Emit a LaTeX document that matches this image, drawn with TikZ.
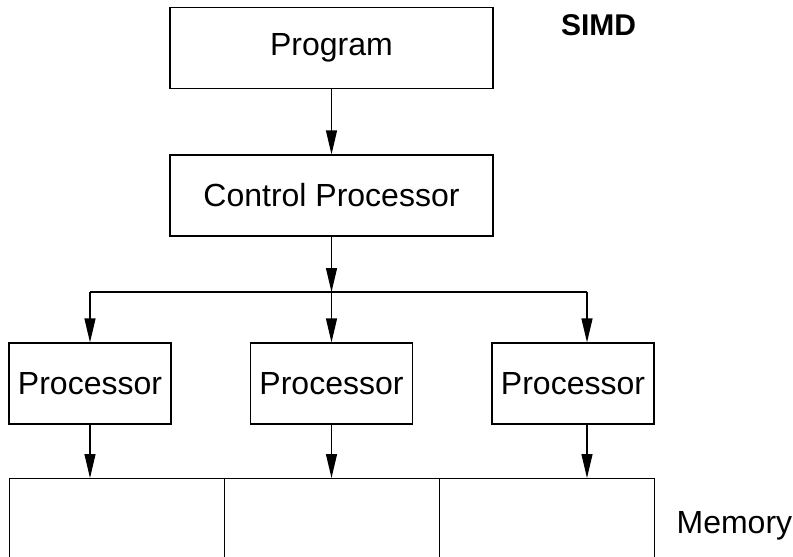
\documentclass[tikz,border=0pt]{standalone}
\usepackage{fontspec}
\setmainfont{Liberation Sans}
\usetikzlibrary{arrows.meta}
\begin{document}
\begin{tikzpicture}[x=0.5pt, y=-0.5pt,
     font=\fontsize{16}{19}\selectfont,
     line width=0.6pt,
     >={Triangle[length=12pt, width=5.5pt]},
     box/.style={draw, rectangle, inner sep=0pt, minimum height=40.5pt},
     cell/.style={draw, rectangle, inner sep=0pt, minimum width=107.5pt,
       minimum height=60pt, anchor=north west}]
\clip (0,0) rectangle (793,557);
\node[box, minimum width=161.5pt] (program) at (331.5,48) {Program};
\node[box, minimum width=161.5pt] (control) at (331.5,195.5) {Control Processor};
\coordinate (split) at (331.5,292);
\foreach \name/\x in {proc1/90, proc2/331.5, proc3/573}
    \node[box, minimum width=81pt] (\name) at (\x,383.5) {Processor};
\foreach \name/\x in {mem1/9, mem2/224, mem3/439}
    \node[cell] (\name) at (\x,478) {};
\node[font=\fontsize{15}{18}\selectfont\bfseries, anchor=base, inner sep=0pt]
    (simd) at (598.5,35) {SIMD};
\node[anchor=base west, inner sep=0pt] (memory) at (676,533) {Memory};
% the third processor is fed off centre
\coordinate (in3) at ([xshift=7pt]proc3.north);
\coordinate (out3) at ([xshift=7pt]proc3.south);
\draw[->] (program) -- (control);
\draw[->] (control) -- (split);
\draw (proc1 |- split) -- (in3 |- split);
\draw[->] (proc1 |- split) -- (proc1);
\draw[->] (split) -- (proc2);
\draw[->] (in3 |- split) -- (in3);
\draw[->] (proc1) -- (proc1 |- mem1.north);
\draw[->] (proc2) -- (proc2 |- mem2.north);
\draw[->] (out3) -- (out3 |- mem3.north);
\end{tikzpicture}
\end{document}
